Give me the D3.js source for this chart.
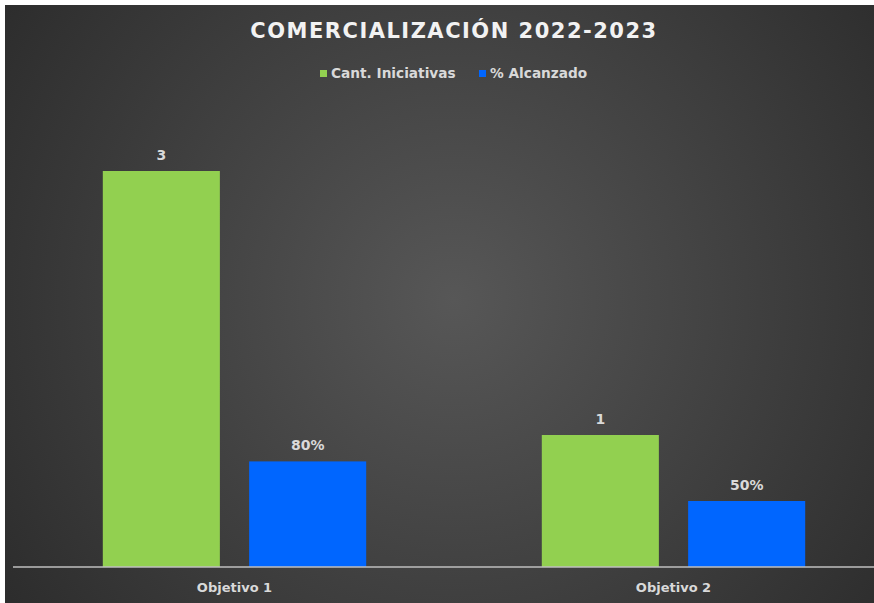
<!DOCTYPE html>
<html><head><meta charset="utf-8">
<script src="https://cdn.jsdelivr.net/npm/d3@7"></script>
<style>html,body{margin:0;padding:0;background:#fff;}svg{display:block;}</style>
</head><body>
<svg id="chart" width="874" height="603"></svg>
<script>
const categories = ["Objetivo 1", "Objetivo 2"];
const seriesNames = ["Cant. Iniciativas", "% Alcanzado"];
const cantIniciativas = [3, 1];
const pctAlcanzado = [0.8, 0.5];
const seriesColors = ["#92d050", "#0066ff"];
const titleText = "COMERCIALIZACIÓN 2022-2023";

const svg = d3.select("#chart");
const W = 874, H = 603;
const FONT = "'DejaVu Sans', sans-serif";

// background
const defs = svg.append("defs");
const rg = defs.append("radialGradient").attr("id", "bg")
  .attr("gradientUnits", "userSpaceOnUse")
  .attr("cx", 454).attr("cy", 300).attr("r", 560);
rg.append("stop").attr("offset", "0%").attr("stop-color", "#575757");
rg.append("stop").attr("offset", "100%").attr("stop-color", "#2b2b2b");
svg.append("rect").attr("width", W).attr("height", H).attr("fill", "#fff");
svg.append("rect").attr("x", 5).attr("y", 5).attr("width", W - 5).attr("height", H - 5).attr("fill", "url(#bg)");

const baseline = 567;
const x0 = d3.scaleBand().domain(categories).range([15, 893]).paddingInner(0.4).paddingOuter(0.2);
const x1 = d3.scaleBand().domain(seriesNames).range([0, x0.bandwidth()]).paddingInner(0.2);
const y = d3.scaleLinear().domain([0, 3.5]).range([baseline, baseline - 3.5 * 132]);

const rows = categories.map((c, i) => ({cat: c, vals: [
  {s: seriesNames[0], v: cantIniciativas[i], label: d3.format("d")(cantIniciativas[i]), color: seriesColors[0]},
  {s: seriesNames[1], v: pctAlcanzado[i], label: d3.format(".0%")(pctAlcanzado[i]), color: seriesColors[1]}
]}));

const g = svg.append("g");
const grp = g.selectAll("g.grp").data(rows).join("g").attr("class", "grp")
  .attr("transform", d => `translate(${x0(d.cat)},0)`);
grp.selectAll("rect").data(d => d.vals).join("rect")
  .attr("x", d => x1(d.s)).attr("y", d => y(d.v))
  .attr("width", x1.bandwidth()).attr("height", d => y(0) - y(d.v))
  .attr("fill", d => d.color);
grp.selectAll("text").data(d => d.vals).join("text")
  .attr("x", d => x1(d.s) + x1.bandwidth() / 2).attr("y", d => y(d.v) - 11)
  .attr("text-anchor", "middle").attr("fill", "#d9d9d9")
  .attr("font-family", FONT).attr("font-weight", 700).attr("font-size", 14)
  .text(d => d.label);

// axis
const xAxis = d3.axisBottom(x0).tickSize(0).tickPadding(16);
const ax = svg.append("g").attr("transform", `translate(0,${baseline})`).call(xAxis);
ax.select(".domain").remove();
ax.append("line").attr("x1", 13).attr("x2", 893).attr("y1", 0).attr("y2", 0)
  .attr("stroke", "#bfbfbf").attr("stroke-width", 1.5);
ax.selectAll("text").attr("fill", "#d9d9d9").attr("font-family", FONT)
  .attr("font-weight", 700).attr("font-size", 13);

// title
svg.append("text").attr("x", 454).attr("y", 38).attr("text-anchor", "middle")
  .attr("fill", "#f2f2f2").attr("font-family", FONT).attr("font-weight", 700)
  .attr("font-size", 21).attr("letter-spacing", 1.5).text(titleText);

// legend
const legend = svg.append("g");
const items = [{n: seriesNames[0], c: seriesColors[0], x: 320}, {n: seriesNames[1], c: seriesColors[1], x: 479}];
const li = legend.selectAll("g").data(items).join("g").attr("transform", d => `translate(${d.x},70)`);
li.append("rect").attr("width", 7).attr("height", 7).attr("fill", d => d.c);
li.append("text").attr("x", 11).attr("y", 8).attr("fill", "#d9d9d9")
  .attr("font-family", FONT).attr("font-weight", 700).attr("font-size", 13.7).text(d => d.n);
</script>
</body></html>
